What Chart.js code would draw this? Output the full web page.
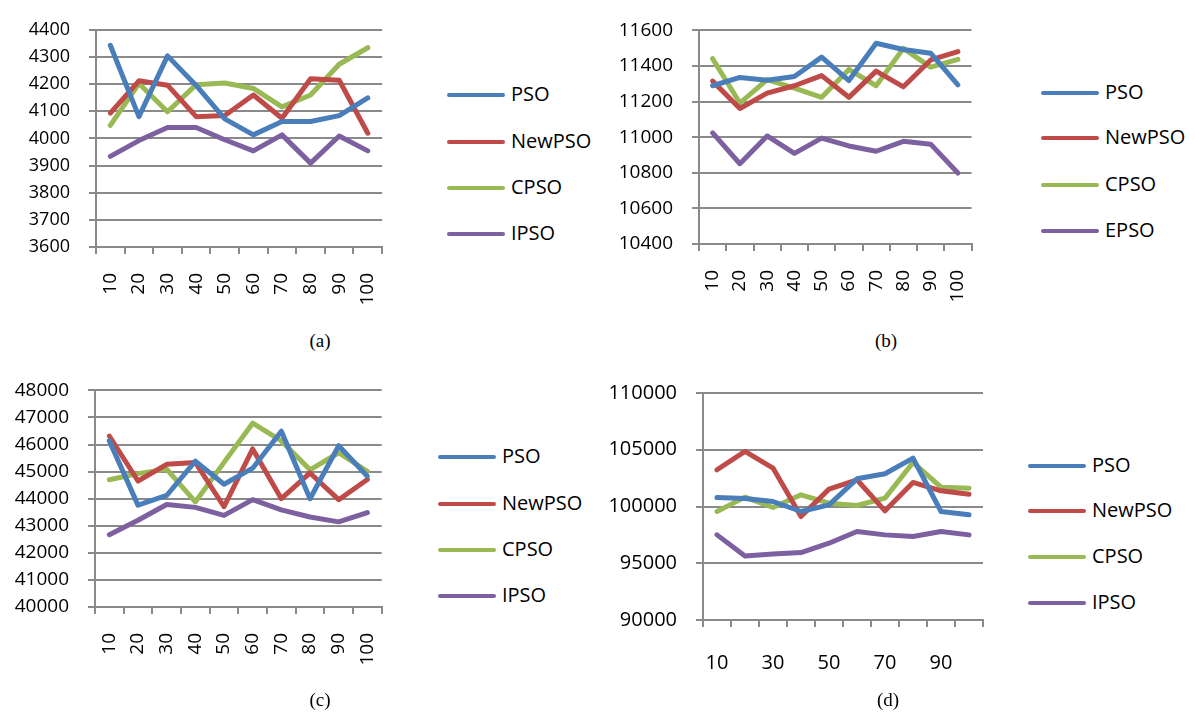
<!DOCTYPE html>
<html>
<head>
<meta charset="utf-8">
<script src="https://cdn.jsdelivr.net/npm/chart.js@4/dist/chart.umd.min.js"></script>
<style>
  body { margin: 0; background: #fff; width: 1195px; height: 714px; position: relative; overflow: hidden; }
  canvas { position: absolute; }
  .cap { position: absolute; font-family: "Liberation Serif", serif; font-size: 19px; color: #000; transform: translate(-50%, -50%); }
  .leg { position: absolute; font-family: "Open Sans", sans-serif; font-size: 20px; color: #000; height: 28px; line-height: 28px; white-space: nowrap; }
  .leg span.ln { display: inline-block; height: 4px; border-radius: 2px; vertical-align: middle; margin-right: 6px; position: relative; top: -1px; }
</style>
</head>
<body>
<canvas id="chA" width="410" height="330" style="left:0;top:0"></canvas>
<canvas id="chB" width="400" height="330" style="left:600px;top:0"></canvas>
<canvas id="chC" width="410" height="330" style="left:0;top:360px"></canvas>
<canvas id="chD" width="400" height="330" style="left:600px;top:360px"></canvas>

<div class="cap" style="left:320px;top:341px">(a)</div>
<div class="cap" style="left:886px;top:341px">(b)</div>
<div class="cap" style="left:320px;top:700px">(c)</div>
<div class="cap" style="left:888px;top:700px">(d)</div>

<script>
const categories = ["10", "20", "30", "40", "50", "60", "70", "80", "90", "100"];
const colors = ["#4a7ebb", "#be4b48", "#98b954", "#7d60a0"];

// (a)
const namesA = ["PSO", "NewPSO", "CPSO", "IPSO"];
const aPSO    = [4343, 4080, 4304, 4195, 4072, 4013, 4062, 4062, 4084, 4149];
const aNewPSO = [4093, 4212, 4196, 4080, 4084, 4160, 4074, 4220, 4214, 4019];
const aCPSO   = [4048, 4202, 4098, 4198, 4204, 4184, 4116, 4160, 4273, 4334];
const aIPSO   = [3934, 3992, 4040, 4040, 3995, 3954, 4013, 3909, 4009, 3954];

// (b)
const namesB = ["PSO", "NewPSO", "CPSO", "EPSO"];
const bPSO    = [11289, 11336, 11320, 11341, 11450, 11318, 11528, 11493, 11472, 11294];
const bNewPSO = [11315, 11161, 11248, 11289, 11346, 11224, 11371, 11283, 11434, 11481];
const bCPSO   = [11441, 11192, 11324, 11276, 11224, 11381, 11289, 11499, 11394, 11437];
const bEPSO   = [11024, 10851, 11007, 10909, 10995, 10951, 10921, 10977, 10961, 10799];

// (c)
const namesC = ["PSO", "NewPSO", "CPSO", "IPSO"];
const cPSO    = [46136, 43763, 44119, 45389, 44534, 45128, 46493, 44000, 45958, 44831];
const cNewPSO = [46315, 44653, 45270, 45341, 43703, 45840, 44000, 44950, 43964, 44712];
const cCPSO   = [44700, 44926, 45092, 43881, 45341, 46789, 46136, 45068, 45697, 45009];
const cIPSO   = [42671, 43205, 43786, 43680, 43383, 43964, 43585, 43323, 43145, 43490];

// (d)
const namesD = ["PSO", "NewPSO", "CPSO", "IPSO"];
const dPSO    = [100794, 100706, 100441, 99559, 100147, 102441, 102882, 104265, 99559, 99265];
const dNewPSO = [103235, 104853, 103382, 99118, 101529, 102353, 99618, 102118, 101382, 101088];
const dCPSO   = [99559, 100824, 99912, 101029, 100294, 100088, 100735, 103882, 101706, 101618];
const dIPSO   = [97500, 95647, 95824, 95941, 96765, 97794, 97500, 97353, 97794, 97500];

Chart.defaults.color = "#000";
Chart.defaults.font.family = "'Open Sans', sans-serif";

const gridColor = "#8a8a8a";

function makePanel(id, names, series, yMin, yMax, yStep, box) {
    const datasets = series.map((s, i) => ({
        label: names[i],
        data: s,
        borderColor: colors[i],
        backgroundColor: colors[i],
        borderWidth: 5,
        borderCapStyle: "round",
        borderJoinStyle: "round",
        pointRadius: 0,
        tension: 0
    }));
    new Chart(document.getElementById(id), {
        type: "line",
        data: { labels: categories, datasets: datasets },
        options: {
            responsive: false,
            animation: false,
            devicePixelRatio: 1,
            layout: { padding: { top: box.top, right: box.right, left: 0, bottom: 0 } },
            plugins: { legend: { display: false }, tooltip: { enabled: false } },
            scales: {
                x: {
                    offset: true,
                    grid: { offset: true, drawOnChartArea: false, color: gridColor, lineWidth: 2, tickLength: 7 },
                    border: { color: gridColor, width: 2 },
                    ticks: {
                        autoSkip: false,
                        minRotation: box.rot,
                        maxRotation: box.rot,
                        padding: box.xPad,
                        font: { size: box.xFont },
                        callback: function (v, i) {
                            return (box.every && i % box.every) ? "" : this.getLabelForValue(v);
                        }
                    },
                    afterFit: s => { s.height = box.xH; }
                },
                y: {
                    min: yMin,
                    max: yMax,
                    grid: { color: gridColor, lineWidth: 2, tickLength: 7 },
                    border: { color: gridColor, width: 2 },
                    ticks: {
                        stepSize: yStep,
                        padding: 19,
                        font: { size: box.yFont },
                        callback: v => String(v)
                    },
                    afterFit: s => { s.width = box.yW; }
                }
            }
        }
    });
}

makePanel("chA", namesA, [aPSO, aNewPSO, aCPSO, aIPSO], 3600, 4400, 100,
    { top: 21, right: 8, yW: 96, xH: 83, rot: 90, xPad: 19, xFont: 19, yFont: 18 });
makePanel("chB", namesB, [bPSO, bNewPSO, bCPSO, bEPSO], 10400, 11600, 200,
    { top: 16, right: 6, yW: 99, xH: 86, rot: 90, xPad: 19, xFont: 19, yFont: 19 });
makePanel("chC", namesC, [cPSO, cNewPSO, cCPSO, cIPSO], 40000, 48000, 1000,
    { top: 23, right: 17, yW: 95, xH: 83, rot: 90, xPad: 19, xFont: 19, yFont: 19 });
makePanel("chD", namesD, [dPSO, dNewPSO, dCPSO, dIPSO], 90000, 110000, 5000,
    { top: 33, right: 17, yW: 103, xH: 70, rot: 0, xPad: 24, xFont: 20, yFont: 20, every: 2 });

// legends
function makeLegend(names, left, tops) {
    names.forEach((n, i) => {
        const d = document.createElement("div");
        d.className = "leg";
        d.style.left = left + "px";
        d.style.top = (tops[i] - 14) + "px";
        const ln = document.createElement("span");
        ln.className = "ln";
        ln.style.width = "58px";
        ln.style.background = colors[i];
        d.appendChild(ln);
        d.appendChild(document.createTextNode(n));
        document.body.appendChild(d);
    });
}
makeLegend(namesA, 447, [94, 141, 187, 233]);
makeLegend(namesB, 1041, [92, 137, 184, 230]);
makeLegend(namesC, 438, [456, 503, 549, 595]);
makeLegend(namesD, 1028, [465, 510, 556, 602]);
</script>
</body>
</html>
